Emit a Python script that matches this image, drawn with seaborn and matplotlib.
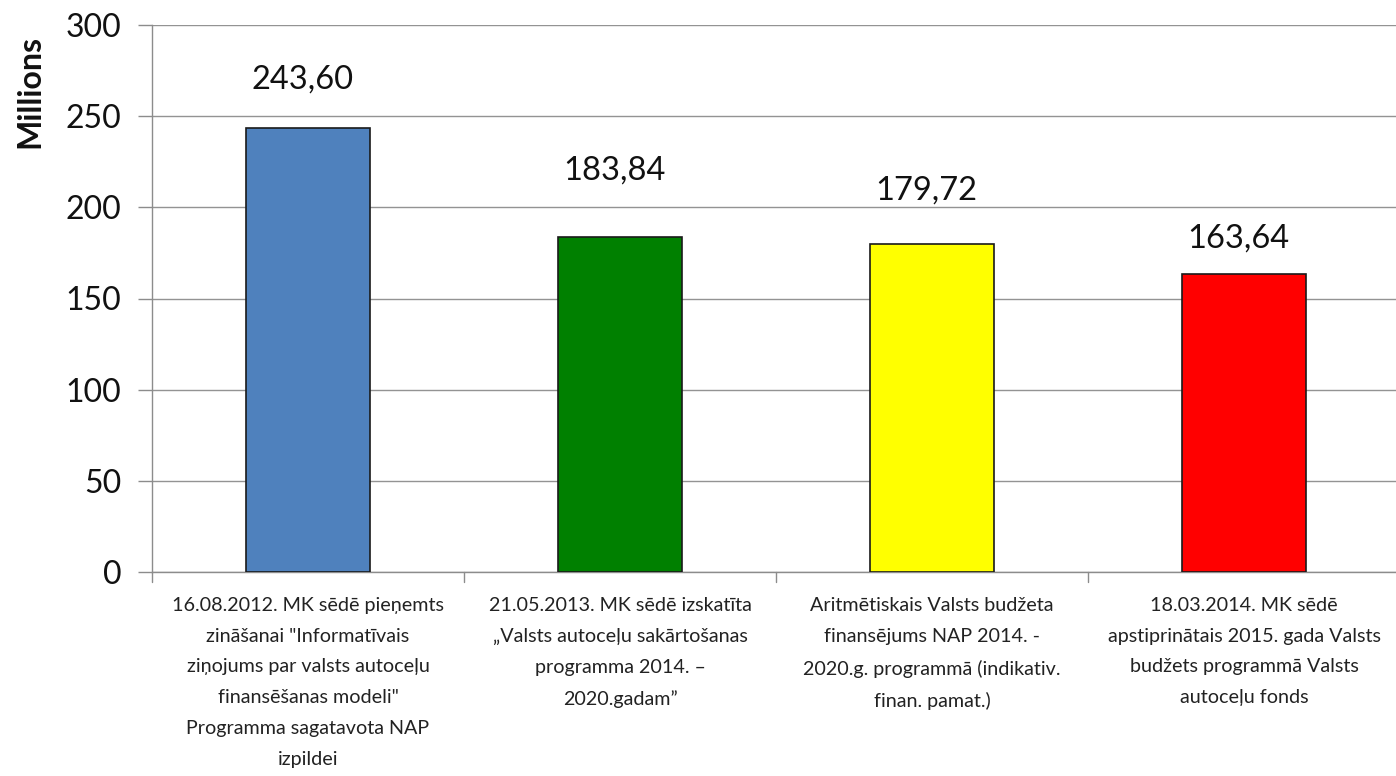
import matplotlib
matplotlib.use("Agg")
import matplotlib.pyplot as plt
import seaborn as sns
import pandas as pd

categories = [
    "16.08.2012. MK sēdē pieņemts\nzināšanai \"Informatīvais\nziņojums par valsts autoceļu\nfinansēšanas modeli\"\nProgramma sagatavota NAP\nizpildei",
    "21.05.2013. MK sēdē izskatīta\n„Valsts autoceļu sakārtošanas\nprogramma 2014. –\n2020.gadam”",
    "Aritmētiskais Valsts budžeta\nfinansējums NAP 2014. -\n2020.g. programmā (indikativ.\nfinan. pamat.)",
    "18.03.2014. MK sēdē\napstiprinātais 2015. gada Valsts\nbudžets programmā Valsts\nautoceļu fonds",
]
values = [243.60, 183.84, 179.72, 163.64]
value_labels = ["243,60", "183,84", "179,72", "163,64"]
label_gap_pt = [35, 48, 39, 25]  # hand-placed label offsets above bar tops
colors = ["#4F81BD", "#008000", "#FFFF00", "#FF0000"]
yticks = [0, 50, 100, 150, 200, 250, 300]

sns.set_theme(style="white")
plt.rcParams["font.family"] = ["Lato", "DejaVu Sans"]

df = pd.DataFrame({"cat": categories, "val": values})

fig = plt.figure(figsize=(13.96, 7.76), dpi=100)
ax = fig.add_axes([152 / 1396, 1 - 572 / 776, 1248 / 1396, (572 - 25) / 776])

sns.barplot(data=df, x="cat", y="val", hue="cat", palette=colors, legend=False,
            saturation=1, width=0.4, edgecolor="#1a1a1a", linewidth=1.2, ax=ax, zorder=3)

ax.set_xlim(-0.5, 3.5)
ax.set_ylim(0, 300)
ax.set_yticks(yticks)
ax.set_yticklabels([str(t) for t in yticks], fontsize=23, color="#111111")
ax.yaxis.grid(True, color="#939393", linewidth=1.0, zorder=0)
ax.set_axisbelow(True)

ax.set_xticks([0, 1, 2, 3])
ax.set_xticklabels(categories, fontsize=14.2, linespacing=1.98, color="#222222", va="top")
ax.tick_params(axis="x", length=0, pad=18)
ax.tick_params(axis="y", length=10, width=1, color="#8c8c8c", direction="out", pad=12, left=True)

# category separator ticks
for xb in [-0.5, 0.5, 1.5, 2.5, 3.5]:
    ax.plot([xb, xb], [0, -0.018], transform=ax.get_xaxis_transform(), color="#8c8c8c",
            linewidth=1, clip_on=False)

for s in ["top", "right"]:
    ax.spines[s].set_visible(False)
for s in ["left", "bottom"]:
    ax.spines[s].set_color("#8c8c8c")
    ax.spines[s].set_linewidth(1.0)

ax.set_xlabel("")
ax.set_ylabel("")
fig.text(30 / 1396, 1 - 92 / 776, "Millions", rotation=90, fontsize=23, fontweight="bold",
         ha="center", va="center", color="#111111")

for i, (v, lab, g) in enumerate(zip(values, value_labels, label_gap_pt)):
    ax.annotate(lab, (i, v), xytext=(-4, g), textcoords="offset points",
                ha="center", va="center", fontsize=23.5, color="#111111")

fig.savefig("out.png", dpi=100)
